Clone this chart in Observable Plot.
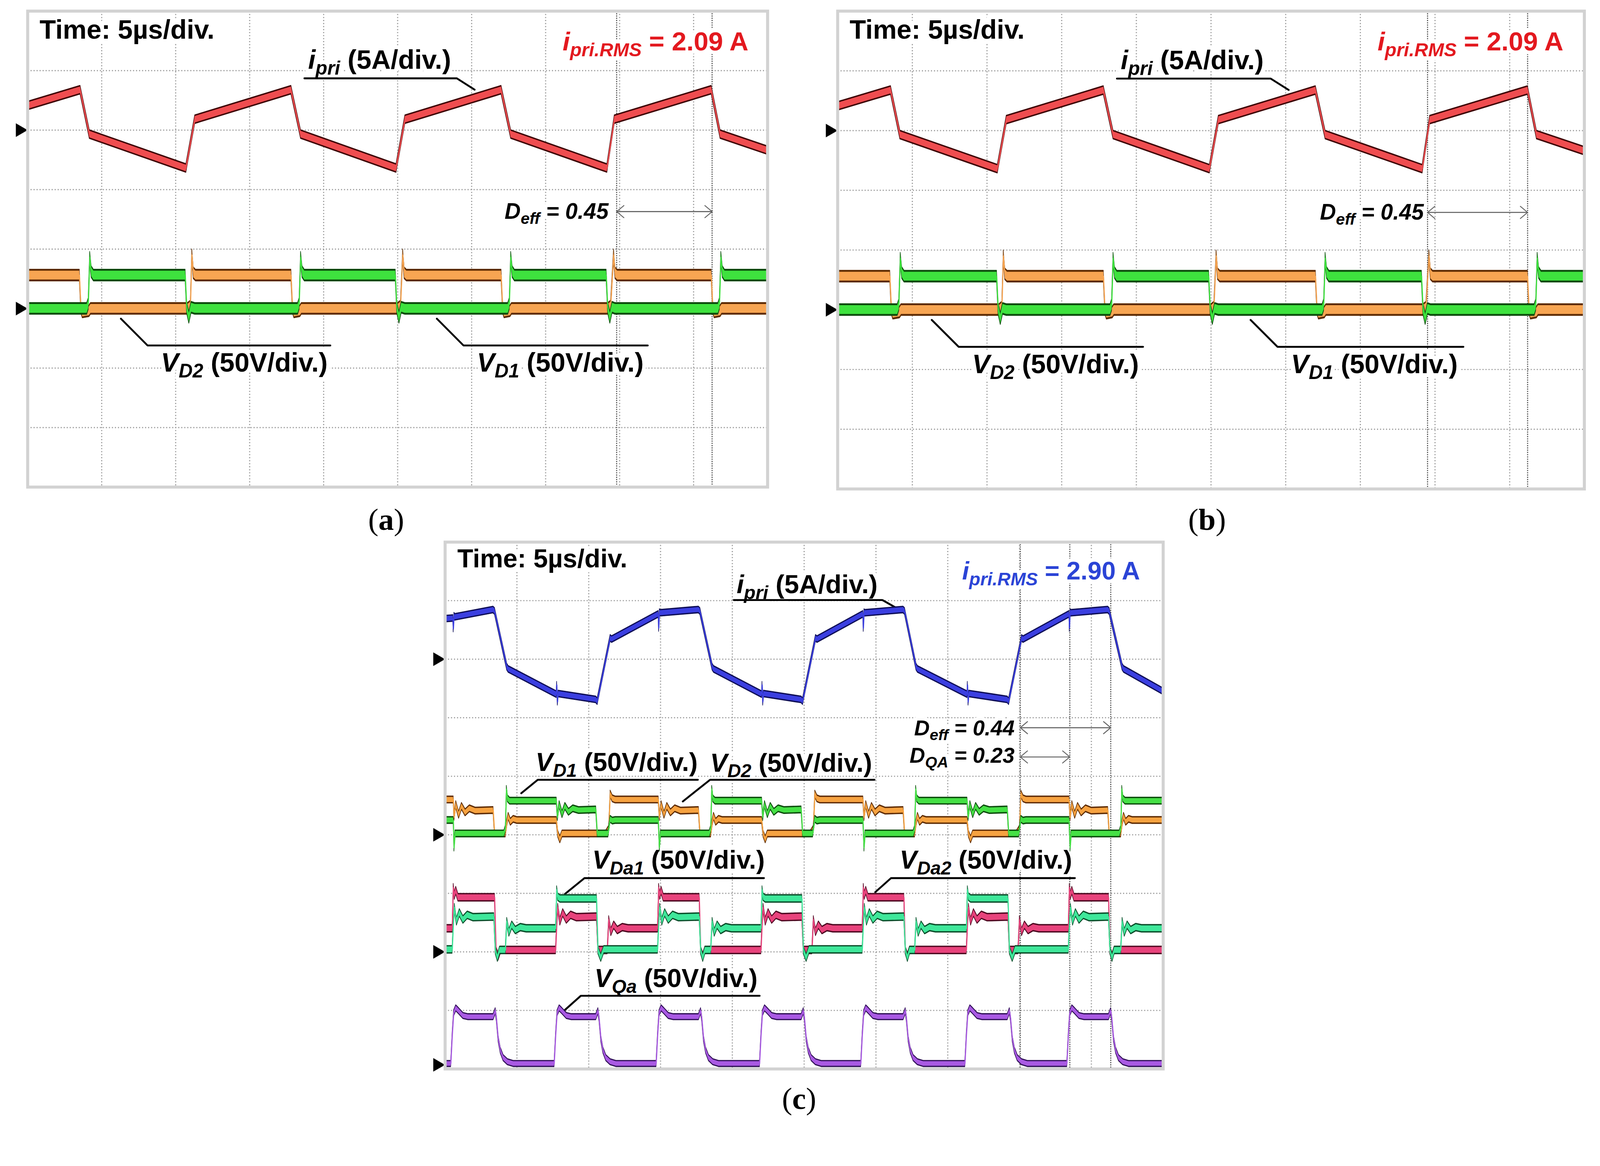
<!DOCTYPE html>
<html><head><meta charset="utf-8">
<script src="https://cdn.jsdelivr.net/npm/d3@7"></script>
<script src="https://cdn.jsdelivr.net/npm/@observablehq/plot@0.6"></script>
<style>
html,body{margin:0;padding:0;background:#fff;overflow:hidden;}
#root{width:4247px;height:2984px;position:absolute;left:0;top:0;transform-origin:0 0;background:#fff;}
.panel{position:absolute;}
.cap{position:absolute;font-family:"Liberation Serif","Times New Roman",serif;font-size:82px;line-height:1;text-align:center;width:400px;}
</style></head><body>
<div id="root">
<div id="pa" class="panel"></div>
<div id="pb" class="panel"></div>
<div id="pc" class="panel"></div>
<div class="cap" style="left:825px;top:1338px">(<b>a</b>)</div>
<div class="cap" style="left:3004px;top:1338px">(<b>b</b>)</div>
<div class="cap" style="left:1921px;top:2875px">(<b>c</b>)</div>
</div>
<script>
// ---------- grid (divisions) ----------
const gridX = [1,2,3,4,5,6,7,8,9];
const gridYab = [1,2,3,4,5,6,7];
const gridYc = [1,2,3,4,5,6,7,8];

// ---------- panels (a) and (b): [time (div), value (div above ground marker)] ----------
const ipriAB = [[0,0.41],[0.71,0.675],[0.835,-0.07],[2.14,-0.64],[2.26,0.18],[3.56,0.675],[3.69,-0.07],[4.98,-0.64],[5.10,0.18],[6.40,0.675],[6.53,-0.07],[7.83,-0.64],[7.93,0.18],[9.24,0.675],[9.36,-0.07],[10,-0.34]];
const vd2AB = [[0,0.56],[0.70,0.56],[0.72,0.02],[0.74,-0.06],[0.83,-0.04],[0.85,0],[2.16,0],[2.20,0.04],[2.22,0.9],[2.24,0.6],[2.27,0.56],[3.56,0.56],[3.58,0.02],[3.60,-0.06],[3.68,-0.04],[3.70,0],[5.00,0],[5.04,0.04],[5.07,0.9],[5.09,0.6],[5.12,0.56],[6.40,0.56],[6.42,0.02],[6.44,-0.06],[6.52,-0.04],[6.54,0],[7.84,0],[7.88,0.04],[7.92,0.9],[7.94,0.6],[7.97,0.56],[9.24,0.56],[9.26,0.02],[9.28,-0.06],[9.36,-0.04],[9.38,0],[10,0]];
const vd1AB = [[0,0],[0.80,0],[0.82,0.08],[0.84,0.86],[0.86,0.62],[0.89,0.56],[2.13,0.56],[2.15,0.02],[2.18,-0.15],[2.21,0.02],[2.26,0],[3.65,0],[3.67,0.08],[3.69,0.86],[3.71,0.62],[3.74,0.56],[4.97,0.56],[4.99,0.02],[5.02,-0.15],[5.05,0.02],[5.10,0],[6.49,0],[6.51,0.08],[6.53,0.86],[6.55,0.62],[6.58,0.56],[7.82,0.56],[7.84,0.02],[7.87,-0.15],[7.90,0.02],[7.94,0],[9.33,0],[9.35,0.08],[9.37,0.86],[9.39,0.62],[9.42,0.56],[10,0.56]];
const groundsAB = [6, 3];
const cursorsA = [7.96, 9.25];
const cursorsB = [7.90, 9.24];

const textsAB = {
  time: "Time: 5µs/div.",
  ipri: "*i*_{pri} (5A/div.)",
  rms: "*i*_{pri.RMS} = 2.09 A",
  deff: "D_{eff} = 0.45",
  vd2: "*V*_{D2} (50V/div.)",
  vd1: "*V*_{D1} (50V/div.)"
};

// ---------- panel (c) ----------
const ipriC = [[0,0.69],[0.11,0.70],[0.115,0.52],[0.125,0.74],[0.135,0.72],[0.67,0.845],[0.69,0.82],[0.86,-0.13],[0.88,-0.17],[1.55,-0.60],[1.555,-0.44],[1.565,-0.73],[1.575,-0.59],[2.10,-0.69],[2.12,-0.72],[2.30,0.36],[2.32,0.34],[2.97,0.77],[2.975,0.53],[2.985,0.80],[2.995,0.79],[3.53,0.845],[3.55,0.82],[3.72,-0.13],[3.74,-0.17],[4.41,-0.60],[4.415,-0.44],[4.425,-0.73],[4.435,-0.59],[4.96,-0.69],[4.98,-0.72],[5.16,0.36],[5.18,0.34],[5.82,0.77],[5.825,0.53],[5.835,0.80],[5.845,0.79],[6.38,0.845],[6.40,0.82],[6.56,-0.13],[6.58,-0.17],[7.27,-0.60],[7.275,-0.44],[7.285,-0.73],[7.295,-0.59],[7.83,-0.69],[7.85,-0.72],[8.03,0.36],[8.05,0.34],[8.69,0.77],[8.695,0.53],[8.705,0.80],[8.715,0.79],[9.23,0.845],[9.25,0.82],[9.43,-0.13],[9.45,-0.17],[10,-0.55]];
const vd2C = [[0,0.60],[0.115,0.60],[0.125,0.30],[0.15,0.52],[0.19,0.34],[0.23,0.49],[0.28,0.38],[0.34,0.45],[0.42,0.41],[0.67,0.42],[0.69,0.02],[0.84,0.02],[0.86,0.20],[0.88,0.32],[0.91,0.22],[0.95,0.27],[1.00,0.25],[1.55,0.25],[1.57,0.02],[1.60,-0.08],[1.63,0.02],[2.24,0.02],[2.28,0.10],[2.30,0.70],[2.33,0.62],[2.37,0.60],[2.97,0.60],[2.985,0.30],[3.01,0.52],[3.05,0.34],[3.09,0.49],[3.14,0.38],[3.20,0.45],[3.28,0.41],[3.53,0.42],[3.55,0.02],[3.70,0.02],[3.72,0.20],[3.74,0.32],[3.77,0.22],[3.81,0.27],[3.86,0.25],[4.41,0.25],[4.43,0.02],[4.46,-0.08],[4.49,0.02],[5.09,0.02],[5.13,0.10],[5.15,0.70],[5.18,0.62],[5.22,0.60],[5.82,0.60],[5.835,0.30],[5.86,0.52],[5.90,0.34],[5.94,0.49],[5.99,0.38],[6.05,0.45],[6.13,0.41],[6.38,0.42],[6.40,0.02],[6.54,0.02],[6.56,0.20],[6.58,0.32],[6.61,0.22],[6.65,0.27],[6.70,0.25],[7.27,0.25],[7.29,0.02],[7.32,-0.08],[7.35,0.02],[7.96,0.02],[8.00,0.10],[8.02,0.70],[8.05,0.62],[8.09,0.60],[8.69,0.60],[8.705,0.30],[8.73,0.52],[8.77,0.34],[8.81,0.49],[8.86,0.38],[8.92,0.45],[9.00,0.41],[9.23,0.42],[9.25,0.02],[9.41,0.02],[9.43,0.20],[9.45,0.32],[9.48,0.22],[9.52,0.27],[9.57,0.25],[10,0.25]];
const vd1C = [[0,0.25],[0.115,0.25],[0.125,-0.22],[0.14,0.02],[0.67,0.02],[0.82,0.02],[0.84,0.10],[0.855,0.78],[0.87,0.62],[0.90,0.58],[1.55,0.58],[1.565,0.30],[1.59,0.52],[1.63,0.35],[1.67,0.49],[1.72,0.39],[1.78,0.45],[1.86,0.42],[2.10,0.43],[2.12,0.02],[2.27,0.02],[2.30,0.27],[2.33,0.24],[2.37,0.25],[2.97,0.25],[2.985,-0.22],[3.00,0.02],[3.68,0.02],[3.70,0.10],[3.715,0.78],[3.73,0.62],[3.76,0.58],[4.41,0.58],[4.425,0.30],[4.45,0.52],[4.49,0.35],[4.53,0.49],[4.58,0.39],[4.64,0.45],[4.72,0.42],[4.96,0.43],[4.98,0.02],[5.12,0.02],[5.15,0.27],[5.18,0.24],[5.22,0.25],[5.82,0.25],[5.835,-0.22],[5.85,0.02],[6.52,0.02],[6.54,0.10],[6.555,0.78],[6.57,0.62],[6.60,0.58],[7.27,0.58],[7.285,0.30],[7.31,0.52],[7.35,0.35],[7.39,0.49],[7.44,0.39],[7.50,0.45],[7.58,0.42],[7.83,0.43],[7.85,0.02],[7.99,0.02],[8.02,0.27],[8.05,0.24],[8.09,0.25],[8.69,0.25],[8.705,-0.22],[8.72,0.02],[9.39,0.02],[9.41,0.10],[9.425,0.78],[9.44,0.62],[9.47,0.58],[10,0.58]];
const vda2C = [[0,0.40],[0.10,0.40],[0.115,1.10],[0.13,0.96],[0.15,1.05],[0.18,0.93],[0.69,0.93],[0.71,0.03],[0.74,-0.08],[0.77,0.03],[1.54,0.03],[1.555,0.45],[1.57,0.76],[1.60,0.52],[1.64,0.67],[1.69,0.55],[1.75,0.63],[1.83,0.59],[2.11,0.60],[2.13,0.03],[2.26,0.03],[2.28,0.55],[2.31,0.34],[2.35,0.46],[2.40,0.37],[2.47,0.42],[2.55,0.40],[2.96,0.40],[2.975,1.10],[2.99,0.96],[3.01,1.05],[3.04,0.93],[3.54,0.93],[3.56,0.03],[3.59,-0.08],[3.62,0.03],[4.40,0.03],[4.415,0.45],[4.43,0.76],[4.46,0.52],[4.50,0.67],[4.55,0.55],[4.61,0.63],[4.69,0.59],[4.97,0.60],[4.99,0.03],[5.11,0.03],[5.13,0.55],[5.16,0.34],[5.20,0.46],[5.25,0.37],[5.32,0.42],[5.40,0.40],[5.81,0.40],[5.825,1.10],[5.84,0.96],[5.86,1.05],[5.89,0.93],[6.39,0.93],[6.41,0.03],[6.44,-0.08],[6.47,0.03],[7.26,0.03],[7.275,0.45],[7.29,0.76],[7.32,0.52],[7.36,0.67],[7.41,0.55],[7.47,0.63],[7.55,0.59],[7.84,0.60],[7.86,0.03],[7.98,0.03],[8.00,0.55],[8.03,0.34],[8.07,0.46],[8.12,0.37],[8.19,0.42],[8.27,0.40],[8.68,0.40],[8.695,1.10],[8.71,0.96],[8.73,1.05],[8.76,0.93],[9.24,0.93],[9.26,0.03],[9.29,-0.08],[9.32,0.03],[10,0.03]];
const vda1C = [[0,0.04],[0.10,0.04],[0.115,0.45],[0.13,0.76],[0.16,0.52],[0.20,0.67],[0.25,0.55],[0.31,0.63],[0.39,0.59],[0.68,0.60],[0.70,0.03],[0.73,-0.10],[0.76,0.03],[0.84,0.03],[0.86,0.52],[0.89,0.33],[0.93,0.46],[0.98,0.37],[1.05,0.42],[1.13,0.40],[1.54,0.40],[1.555,1.06],[1.57,0.94],[1.60,0.91],[2.11,0.91],[2.13,0.03],[2.17,-0.10],[2.21,0.04],[2.96,0.04],[2.975,0.45],[2.99,0.76],[3.02,0.52],[3.06,0.67],[3.11,0.55],[3.17,0.63],[3.25,0.59],[3.54,0.60],[3.56,0.03],[3.59,-0.10],[3.62,0.03],[3.70,0.03],[3.72,0.52],[3.75,0.33],[3.79,0.46],[3.84,0.37],[3.91,0.42],[3.99,0.40],[4.40,0.40],[4.415,1.06],[4.43,0.94],[4.46,0.91],[4.97,0.91],[4.99,0.03],[5.03,-0.10],[5.07,0.04],[5.81,0.04],[5.825,0.45],[5.84,0.76],[5.87,0.52],[5.91,0.67],[5.96,0.55],[6.02,0.63],[6.10,0.59],[6.39,0.60],[6.41,0.03],[6.44,-0.10],[6.47,0.03],[6.54,0.03],[6.56,0.52],[6.59,0.33],[6.63,0.46],[6.68,0.37],[6.75,0.42],[6.83,0.40],[7.26,0.40],[7.275,1.06],[7.29,0.94],[7.32,0.91],[7.84,0.91],[7.86,0.03],[7.90,-0.10],[7.94,0.04],[8.68,0.04],[8.695,0.45],[8.71,0.76],[8.74,0.52],[8.78,0.67],[8.83,0.55],[8.89,0.63],[8.97,0.59],[9.24,0.60],[9.26,0.03],[9.29,-0.10],[9.32,0.03],[9.41,0.03],[9.43,0.52],[9.46,0.33],[9.50,0.46],[9.55,0.37],[9.62,0.42],[9.70,0.40],[10,0.40]];
const vqaC = [[0,0.02],[0.08,0.02],[0.10,0.50],[0.12,0.88],[0.15,0.97],[0.19,0.92],[0.25,0.84],[0.32,0.82],[0.67,0.82],[0.70,0.92],[0.715,0.80],[0.74,0.45],[0.77,0.25],[0.81,0.12],[0.87,0.05],[0.95,0.02],[1.52,0.02],[1.54,0.50],[1.56,0.88],[1.59,0.97],[1.63,0.92],[1.69,0.84],[1.76,0.82],[2.10,0.82],[2.13,0.92],[2.145,0.80],[2.17,0.45],[2.20,0.25],[2.24,0.12],[2.30,0.05],[2.38,0.02],[2.94,0.02],[2.96,0.50],[2.98,0.88],[3.01,0.97],[3.05,0.92],[3.11,0.84],[3.18,0.82],[3.53,0.82],[3.56,0.92],[3.575,0.80],[3.60,0.45],[3.63,0.25],[3.67,0.12],[3.73,0.05],[3.81,0.02],[4.38,0.02],[4.40,0.50],[4.42,0.88],[4.45,0.97],[4.49,0.92],[4.55,0.84],[4.62,0.82],[4.96,0.82],[4.99,0.92],[5.005,0.80],[5.03,0.45],[5.06,0.25],[5.10,0.12],[5.16,0.05],[5.24,0.02],[5.79,0.02],[5.81,0.50],[5.83,0.88],[5.86,0.97],[5.90,0.92],[5.96,0.84],[6.03,0.82],[6.38,0.82],[6.41,0.92],[6.425,0.80],[6.45,0.45],[6.48,0.25],[6.52,0.12],[6.58,0.05],[6.66,0.02],[7.24,0.02],[7.26,0.50],[7.28,0.88],[7.31,0.97],[7.35,0.92],[7.41,0.84],[7.48,0.82],[7.83,0.82],[7.86,0.92],[7.875,0.80],[7.90,0.45],[7.93,0.25],[7.97,0.12],[8.03,0.05],[8.11,0.02],[8.66,0.02],[8.68,0.50],[8.70,0.88],[8.73,0.97],[8.77,0.92],[8.83,0.84],[8.90,0.82],[9.24,0.82],[9.27,0.92],[9.285,0.80],[9.31,0.45],[9.34,0.25],[9.38,0.12],[9.44,0.05],[9.52,0.02],[10,0.02]];
const groundsC = [7, 4, 2, 0.07];
const cursorsC = [8.01, 8.70, 9.27];

const textsC = {
  time: "Time: 5µs/div.",
  ipri: "*i*_{pri} (5A/div.)",
  rms: "*i*_{pri.RMS} = 2.90 A",
  deff: "D_{eff} = 0.44",
  dqa: "D_{QA} = 0.23",
  vd1: "*V*_{D1} (50V/div.)",
  vd2: "*V*_{D2} (50V/div.)",
  vda1: "*V*_{Da1} (50V/div.)",
  vda2: "*V*_{Da2} (50V/div.)",
  vqa: "*V*_{Qa} (50V/div.)"
};

// ---------- layout (positions in divisions; styles) ----------
const FONT = "Liberation Sans, Arial, Helvetica, sans-serif";
const labelsAB = [
  {key:"time", x:0.16, y:7.54, size:71, halo:26},
  {key:"ipri", x:3.79, y:7.03, size:71},
  {key:"rms", x:7.23, y:7.34, size:70, fill:"#e3191f"},
  {key:"deff", x:7.85, y:4.51, size:59, anchor:"end", italic:true},
  {key:"vd2", x:1.80, y:1.94, size:71},
  {key:"vd1", x:6.07, y:1.94, size:71}
];
const leadersAB = [
  [[3.74,6.87],[5.80,6.87],[6.04,6.68]],
  [[1.26,2.83],[1.62,2.38],[4.09,2.38]],
  [[5.53,2.83],[5.89,2.38],[8.38,2.38]]
];
const labelsC = [
  {key:"time", x:0.17, y:8.57, size:69, halo:26},
  {key:"ipri", x:4.06, y:8.13, size:70},
  {key:"rms", x:7.20, y:8.36, size:67, fill:"#2b44d6"},
  {key:"deff", x:7.93, y:5.70, size:57, anchor:"end", italic:true},
  {key:"dqa", x:7.93, y:5.23, size:57, anchor:"end", italic:true},
  {key:"vd1", x:1.26, y:5.09, size:69},
  {key:"vd2", x:3.69, y:5.08, size:69},
  {key:"vda1", x:2.05, y:3.42, size:69},
  {key:"vda2", x:6.33, y:3.42, size:69},
  {key:"vqa", x:2.08, y:1.40, size:69}
];
const leadersC = [
  [[4.02,8.01],[6.09,8.01],[6.32,7.85]],
  [[1.06,4.71],[1.29,4.94],[3.52,4.94]],
  [[3.31,4.57],[3.69,4.94],[5.98,4.94]],
  [[1.67,2.99],[1.94,3.26],[4.44,3.26]],
  [[5.99,3.02],[6.21,3.26],[8.77,3.26]],
  [[1.67,1.01],[1.89,1.25],[4.38,1.25]]
];

function richify(svg) {
  const NS = "http://www.w3.org/2000/svg";
  svg.querySelectorAll("text").forEach(t => {
    const s = t.textContent;
    if (!/\*|_\{/.test(s)) return;
    const parts = s.split(/(\*[^*]+\*|_\{[^}]+\})/).filter(p => p.length);
    while (t.firstChild) t.removeChild(t.firstChild);
    let lowered = false;
    for (const p of parts) {
      const ts = document.createElementNS(NS, "tspan");
      if (p.startsWith("_{")) {
        ts.textContent = p.slice(2, -1);
        ts.setAttribute("font-style", "italic");
        ts.style.fontSize = "0.72em";
        ts.setAttribute("dy", "0.31em");
        lowered = true;
      } else {
        if (p.startsWith("*")) { ts.textContent = p.slice(1, -1); ts.setAttribute("font-style", "italic"); }
        else ts.textContent = p;
        if (lowered) { ts.setAttribute("dy", "-0.223em"); lowered = false; }
      }
      t.appendChild(ts);
    }
  });
}

function drawPanel(id, cfg) {
  const m = {l: 60, t: 12, r: 12, b: 12};
  const X = d => d[0];
  const marks = [
    Plot.ruleX(gridX, {stroke: "#9d9d9d", strokeWidth: 3, strokeDasharray: "3,5"}),
    Plot.ruleY(cfg.gridY, {stroke: "#9d9d9d", strokeWidth: 3, strokeDasharray: "3,5"}),
    Plot.ruleX(cfg.cursors, {stroke: "#555", strokeWidth: 3, strokeDasharray: "3,3"})
  ];
  for (const L of cfg.labels) {
    marks.push(Plot.text([L], {
      x: "x", y: "y", text: d => cfg.texts[d.key],
      fontSize: L.size, fontWeight: "bold", fontFamily: FONT,
      fontStyle: L.italic ? "italic" : "normal",
      fill: L.fill || "black", stroke: "white", strokeWidth: L.halo || 20,
      textAnchor: L.anchor || "start", dy: -0.32 * L.size
    }));
  }
  for (const ld of cfg.leaders) marks.push(Plot.line(ld, {x: X, y: d => d[1], stroke: "black", strokeWidth: 5}));
  for (const a of cfg.arrows) {
    const o = {stroke: "#666", strokeWidth: 2.5, headLength: 15, headAngle: 80};
    marks.push(Plot.arrow([a], {x1: "a", x2: "b", y1: "y", y2: "y", ...o}));
    marks.push(Plot.arrow([a], {x1: "b", x2: "a", y1: "y", y2: "y", ...o}));
  }
  for (const tr of cfg.traces) {
    const lo = d => tr.g + d[1] - tr.h, hi = d => tr.g + d[1] + tr.h;
    const loIn = d => tr.g + d[1] - tr.h + tr.f, hiIn = d => tr.g + d[1] + tr.h - tr.f;
    marks.push(Plot.area(tr.data, {x1: X, y1: lo, y2: hi, fill: tr.edge, stroke: tr.edge, strokeWidth: 1.5}));
    marks.push(Plot.area(tr.data, {x1: X, y1: loIn, y2: hiIn, fill: tr.fill}));
    marks.push(Plot.line(tr.data, {x: X, y: d => tr.g + d[1], stroke: tr.fill, strokeWidth: 3}));
  }
  marks.push(Plot.dot(cfg.grounds, {x: () => 0, y: d => d, symbol: "triangle", rotate: 90, r: 13.4, fill: "black", dx: -21}));
  marks.push(Plot.frame({stroke: "#d2d2d2", strokeWidth: 8}));
  const svg = Plot.plot({
    width: cfg.w + m.l + m.r, height: cfg.h + m.t + m.b,
    marginLeft: m.l, marginTop: m.t, marginRight: m.r, marginBottom: m.b,
    x: {domain: [0, 10], axis: null},
    y: {domain: [0, cfg.nY], axis: null},
    style: {background: "transparent", overflow: "visible", maxWidth: "none"},
    marks
  });
  richify(svg);
  const el = document.getElementById(id);
  el.style.left = (cfg.left - m.l) + "px";
  el.style.top = (cfg.top - m.t) + "px";
  el.appendChild(svg);
}

const tracesAB = [
  {data: ipriAB, g: 6, h: 0.075, f: 0.02, fill: "#ef4d50", edge: "#3d0505"},
  {data: vd2AB, g: 3, h: 0.1, f: 0.026, fill: "#f7a552", edge: "#5c2a00"},
  {data: vd1AB, g: 3, h: 0.1, f: 0.026, fill: "#3ee23e", edge: "#0c4a0c"}
];

drawPanel("pa", {left: 73, top: 29, w: 1964, h: 1263, nY: 8, gridY: gridYab,
  cursors: cursorsA, labels: labelsAB, texts: textsAB, leaders: leadersAB,
  arrows: [{a: cursorsA[0], b: cursorsA[1], y: 4.63}], traces: tracesAB, grounds: groundsAB});

drawPanel("pb", {left: 2223, top: 29, w: 1982, h: 1268, nY: 8, gridY: gridYab,
  cursors: cursorsB, labels: labelsAB, texts: textsAB, leaders: leadersAB,
  arrows: [{a: cursorsB[0], b: cursorsB[1], y: 4.63}], traces: tracesAB, grounds: groundsAB});

drawPanel("pc", {left: 1181, top: 1438, w: 1906, h: 1398, nY: 9, gridY: gridYc,
  cursors: cursorsC, labels: labelsC, texts: textsC, leaders: leadersC,
  arrows: [{a: cursorsC[0], b: cursorsC[2], y: 5.83}, {a: cursorsC[0], b: cursorsC[1], y: 5.33}],
  traces: [
    {data: ipriC, g: 7, h: 0.06, f: 0.018, fill: "#3b3fe0", edge: "#0d0d55"},
    {data: vd2C, g: 4, h: 0.062, f: 0.018, fill: "#f6a240", edge: "#5c2a00"},
    {data: vd1C, g: 4, h: 0.062, f: 0.018, fill: "#45e045", edge: "#0c4a0c"},
    {data: vda2C, g: 2, h: 0.068, f: 0.018, fill: "#e8437c", edge: "#4d0820"},
    {data: vda1C, g: 2, h: 0.068, f: 0.018, fill: "#3fe79a", edge: "#0b4d2a"},
    {data: vqaC, g: 0.07, h: 0.055, f: 0.016, fill: "#a95ae3", edge: "#2e0f55"}
  ],
  grounds: groundsC});

// fit the 4247x2984 layout into whatever viewport the page is given
function fit() {
  const s = Math.min(window.innerWidth / 4247, window.innerHeight / 2984);
  document.getElementById("root").style.transform = `scale(${s})`;
}
fit();
window.addEventListener("resize", fit);
</script>
</body></html>
